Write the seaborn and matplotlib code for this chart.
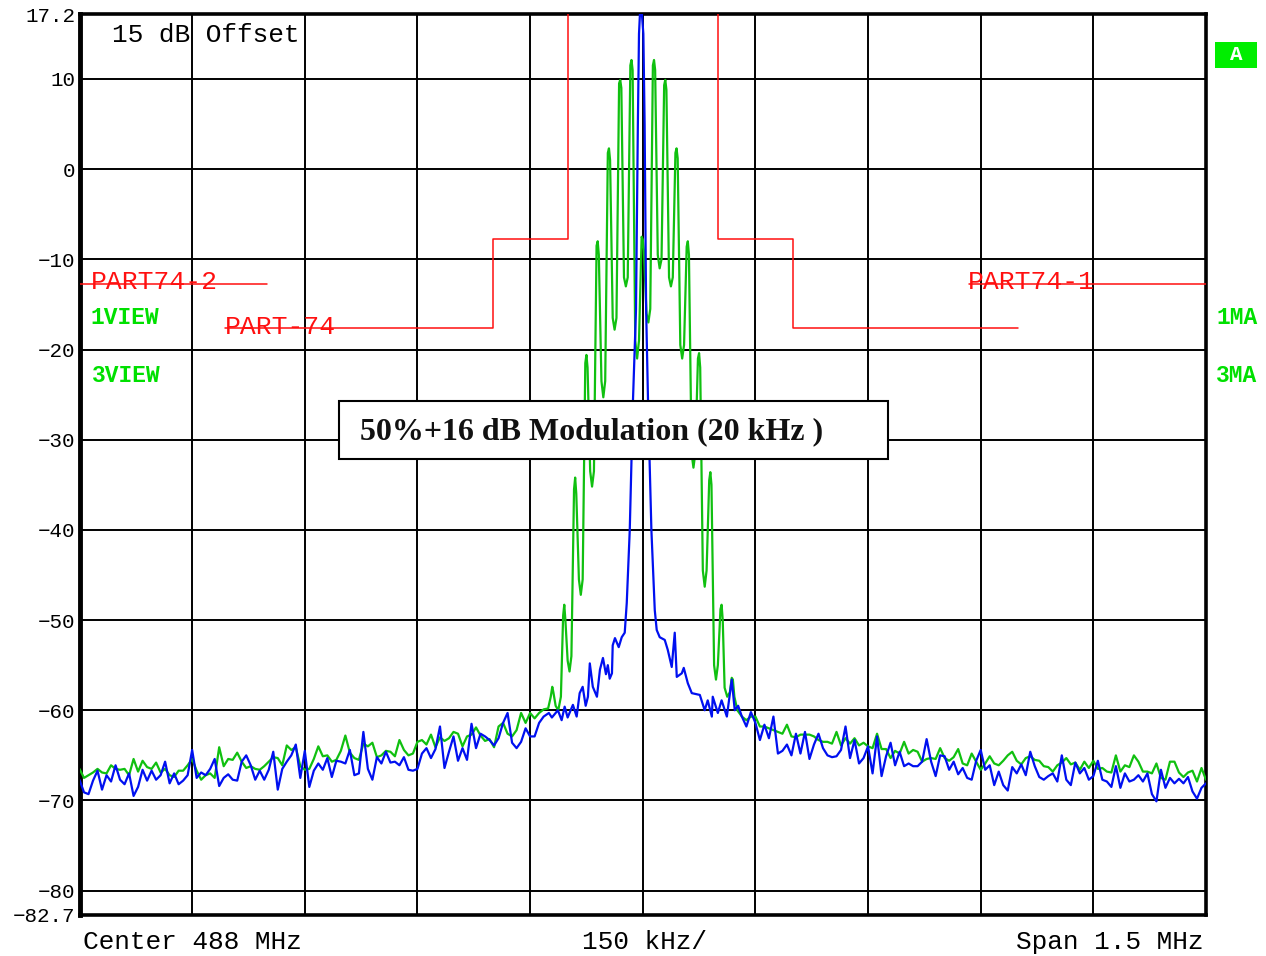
import numpy as np
import pandas as pd
import matplotlib
matplotlib.use("Agg")
import matplotlib.pyplot as plt
import seaborn as sns
from matplotlib.patches import Rectangle

# ---------------- data (dB, frequency in MHz / kHz offsets) ----------------
CENTER_MHZ = 488.0
SPAN_START, SPAN_END = 487.25, 488.75
LEFT_NOISE_END, RIGHT_NOISE_START = 487.868, 488.132

GREEN_LEFT = [-66.5, -67.5, -67.2, -66.9, -66.5, -66.9, -67.0, -66.1, -66.5, -66.6, -66.5, -67.2, -65.4, -66.8,
              -65.6, -66.3, -66.5, -65.8, -66.9, -66.5, -67.2, -67.4, -66.7, -66.7, -66.1, -65.4, -66.7, -67.7,
              -67.2, -67.0, -67.5, -64.1, -66.2, -65.4, -65.5, -64.7, -65.7, -66.4, -66.2, -66.5, -66.6, -66.2,
              -65.7, -65.2, -65.3, -66.1, -63.9, -64.4, -64.1, -66.2, -66.6, -66.5, -65.4,
              -64.0, -65.1, -65.0, -65.7, -65.5, -64.5, -62.8, -64.7, -65.3, -65.5, -63.7, -64.0, -63.6, -65.2,
              -65.0, -64.5, -64.6, -65.1, -63.3, -64.4, -65.0, -64.8, -63.5, -63.3, -63.8, -62.7, -64.1, -63.0,
              -63.4, -63.1, -62.4, -62.6, -64.0, -62.9, -62.7, -61.9, -62.8, -63.4, -63.2, -64.1, -61.8, -61.4,
              -62.6, -62.9, -62.2, -60.3, -61.4, -60.3, -60.9, -60.3, -59.9]
BLUE_LEFT = [-67.7, -69.1, -69.3, -67.8, -66.7, -68.8, -67.2, -67.9, -66.1, -67.7, -68.2, -67.0, -69.5, -68.5,
             -66.6, -67.8, -66.7, -67.7, -67.2, -65.7, -68.1, -67.0, -68.2, -67.8, -67.2, -64.4, -67.5, -66.9,
             -67.2, -66.5, -65.4, -68.4, -67.5, -67.1, -67.7, -67.8, -65.7, -65.0, -66.1, -67.7, -66.7, -67.7,
             -66.6, -64.6, -68.8, -66.5, -65.7, -65.0, -63.8, -67.5, -64.5, -68.5, -66.7,
             -65.9, -66.6, -65.3, -67.4, -65.6, -65.7, -65.9, -64.4, -67.2, -67.0, -62.4, -66.5, -67.7, -65.2,
             -65.9, -64.6, -65.8, -65.7, -66.1, -65.2, -66.6, -66.7, -66.5, -64.8, -64.2, -65.3, -64.3, -61.8,
             -66.4, -64.6, -62.9, -65.6, -64.2, -65.5, -61.5, -64.2, -62.6, -62.9, -63.3, -63.9, -63.1, -61.4,
             -60.3, -63.6, -64.2, -63.5, -62.0, -62.9, -62.9, -61.4, -60.7]
GREEN_RIGHT = [-60.7, -61.1, -60.7, -60.7, -61.8, -61.8, -62.0, -62.2, -62.4, -62.6, -61.6, -62.9, -63.0, -62.7,
               -62.7, -62.7, -62.9, -63.3, -63.5, -63.5, -63.7, -62.4, -63.9, -63.1, -63.7, -63.1, -63.9, -63.6,
               -64.0, -64.2, -62.6, -64.3, -64.3, -65.3, -64.5, -64.8, -63.5, -64.8, -64.4, -64.6, -65.7, -65.4,
               -65.3, -65.4, -64.2, -65.3, -65.6, -65.2, -64.3, -65.9, -66.1,
               -64.8, -65.7, -66.6, -65.9, -65.1, -65.9, -66.1, -65.6, -65.0, -64.6, -65.6, -66.0, -65.3, -65.1,
               -65.5, -65.6, -66.2, -66.3, -66.8, -66.1, -65.8, -65.3, -66.0, -65.8, -66.6, -65.7, -66.4, -65.6,
               -66.5, -66.4, -66.8, -66.9, -65.0, -66.8, -66.1, -66.3, -65.0, -65.7, -66.8, -66.8, -67.0, -65.9,
               -67.5, -67.7, -65.7, -65.7, -66.9, -67.4, -66.9, -66.7, -67.9, -66.4, -67.7]
BLUE_RIGHT = [-60.7, -61.8, -60.2, -61.4, -63.3, -61.6, -63.1, -60.7, -64.8, -64.5, -63.8, -65.0, -62.6, -64.8,
              -62.4, -65.4, -63.8, -62.6, -64.2, -65.0, -65.2, -65.1, -64.4, -61.8, -65.3, -63.3, -65.9, -65.3,
              -64.0, -67.0, -62.9, -67.3, -65.1, -63.6, -66.1, -64.6, -66.2, -65.9, -66.2, -66.2, -65.7, -63.2,
              -65.7, -67.3, -65.0, -65.1, -66.6, -65.7, -67.1, -66.4, -67.5,
              -67.7, -65.6, -64.4, -66.6, -66.1, -68.3, -66.8, -68.3, -68.9, -66.3, -67.0, -66.0, -67.2, -64.6,
              -66.2, -67.4, -67.7, -67.3, -67.0, -67.9, -65.0, -67.7, -68.3, -65.8, -67.0, -66.4, -67.7, -67.3,
              -65.6, -67.7, -67.9, -68.5, -66.2, -68.6, -67.0, -67.9, -67.7, -67.2, -67.9, -67.0, -69.3, -70.1,
              -66.6, -68.6, -67.5, -68.1, -67.6, -68.1, -67.4, -69.0, -69.8, -68.6, -68.1]

# central modulation spectrum (offset from centre in kHz, level in dB)
GREEN_CENTER_OFF = [-126, -122.5, -120.5, -119, -116, -112.5, -109, -106, -104.5, -103, -100, -97.5, -95,
                    -91.5, -90, -88.5, -85, -82.5, -80, -76.5, -75, -73.5, -70, -67.5, -65, -61.5, -60, -58.5,
                    -55, -52.5, -50, -46.5, -45, -43.5, -40, -37.5, -35, -31.5, -30, -28.5, -25, -22.5, -20,
                    -16.5, -15, -13.5, -10, -7.5, -5, -1.5, 0, 1.5, 5, 7.5, 10, 13.5, 15, 16.5, 20, 22.5, 25,
                    28.5, 30, 31.5, 35, 37.5, 40, 43.5, 45, 46.5, 50, 52.5, 55, 58.5, 60, 61.5, 65, 67.5, 70,
                    73.5, 75, 76.5, 80, 82.5, 85, 88.5, 90, 91.5, 95, 97.5, 100, 103.5, 105, 106.5, 109, 112.5,
                    116, 118.5, 120, 122, 126]
GREEN_CENTER_DB = [-59.8, -58.5, -57.4, -58.0, -59.5, -60.0, -58.5, -49.5, -48.3, -50.0, -54.5, -55.7, -54.0,
                   -35.5, -34.2, -36.0, -45.5, -47.2, -45.5, -21.5, -20.6, -22.0, -33.5, -35.2, -33.5, -8.5,
                   -8.0, -9.5, -23.5, -25.3, -23.5, 1.8, 2.3, 1.0, -16.5, -17.8, -16.5, 9.5, 9.9, 9.0, -12.0,
                   -13.0, -12.0, 11.5, 12.1, 11.0, -19.0, -21.0, -19.0, -7.5, -7.8, -9.0, -16.0, -17.0, -15.5,
                   11.5, 12.1, 11.0, -9.5, -11.0, -10.0, 9.3, 9.9, 8.8, -12.0, -13.0, -12.0, 1.8, 2.3, 1.2,
                   -19.5, -21.0, -19.5, -8.6, -8.0, -9.5, -31.5, -33.1, -31.5, -21.0, -20.4, -22.0, -44.5,
                   -46.3, -44.5, -34.5, -33.6, -35.0, -55.0, -56.6, -55.0, -48.8, -48.3, -50.0, -57.5, -58.5,
                   -58.0, -56.4, -56.6, -58.5, -60.0]
BLUE_CENTER_OFF = [-125, -121, -113, -108, -104, -100, -93, -88, -84, -80, -76, -73, -70.5, -66.5, -61, -57,
                   -53, -49, -46.5, -44, -41, -40, -37, -32, -28, -24, -21.3, -17.3, -13, -9, -6.5, -5, -2.7,
                   0.8, 2.5, 4.5, 7, 11.5, 16, 18.6, 22.6, 29.3, 33.3, 38.6, 42.6, 45.3, 52, 54.6, 60, 65.3,
                   76, 82.5, 86.5, 92, 93.2, 100, 105, 112, 118.5, 122.5, 127]
BLUE_CENTER_DB = [-60.3, -60.8, -60.0, -61.1, -59.6, -60.8, -59.4, -60.7, -58.1, -57.4, -59.5, -58.5, -54.8,
                  -57.4, -58.5, -55.5, -54.2, -56.0, -55.0, -56.5, -55.9, -52.8, -52.0, -53.0, -51.9, -51.4,
                  -48.1, -40.0, -25.6, -15.6, 5.0, 15.0, 19.0, 15.0, 5.0, -15.6, -25.6, -40.0, -48.9, -51.1,
                  -51.9, -52.2, -53.3, -55.2, -51.4, -56.3, -55.9, -55.3, -57.0, -58.1, -58.3, -60.0, -58.9,
                  -60.7, -58.5, -60.3, -58.9, -60.7, -56.6, -60.0, -59.5]

# limit masks
PART74_MASK_L_F = [487.444, 487.80, 487.80, 487.90, 487.90]
PART74_MASK_L_DB = [-17.6, -17.6, -7.7, -7.7, 18.0]
PART74_MASK_R_F = [488.10, 488.10, 488.20, 488.20, 488.50]
PART74_MASK_R_DB = [18.0, -7.7, -7.7, -17.6, -17.6]
PART74_2_F = [487.25, 487.50]
PART74_1_F = [488.435, 488.75]
PART74_12_DB = -12.7

Y_TICKS = [17.2, 10, 0, -10, -20, -30, -40, -50, -60, -70, -80, -82.7]
Y_LABELS = ["17.2", "10", "0", "\u221210", "\u221220", "\u221230", "\u221240", "\u221250", "\u221260",
            "\u221270", "\u221280", "\u221282.7"]

# ---------------- build traces ----------------
def trace(left, center_off, center_db, right):
    f = np.concatenate([np.linspace(SPAN_START, LEFT_NOISE_END, len(left)),
                        CENTER_MHZ + np.array(center_off) / 1000.0,
                        np.linspace(RIGHT_NOISE_START, SPAN_END, len(right))])
    v = np.concatenate([left, center_db, right])
    return pd.DataFrame({"freq": f, "level": v})

df_green = trace(GREEN_LEFT, GREEN_CENTER_OFF, GREEN_CENTER_DB, GREEN_RIGHT)
df_blue = trace(BLUE_LEFT, BLUE_CENTER_OFF, BLUE_CENTER_DB, BLUE_RIGHT)

# ---------------- figure ----------------
sns.set_theme(style="white")
plt.rcParams['font.family'] = ['Liberation Mono', 'DejaVu Sans Mono']
plt.rcParams['text.color'] = 'black'
W, H = 1266, 956
fig = plt.figure(figsize=(W / 100, H / 100), dpi=100)
fig.patch.set_facecolor("white")
ax = fig.add_axes([79.5 / W, 1 - 915 / H, (1206 - 79.5) / W, (915 - 14) / H])
ax.set_facecolor("white")

def fx(px):
    return px / W

def fy(py):
    return 1 - py / H

GREEN = "#10c010"
BLUE = "#0010f0"
RED = "#ff1010"
LABEL_GREEN = "#00e000"

sns.lineplot(data=df_green, x="freq", y="level", ax=ax, color=GREEN, linewidth=1.6,
             estimator=None, sort=False, zorder=3)
sns.lineplot(data=df_blue, x="freq", y="level", ax=ax, color=BLUE, linewidth=1.6,
             estimator=None, sort=False, zorder=4)

ax.plot(PART74_MASK_L_F, PART74_MASK_L_DB, color=RED, lw=1.1, zorder=5)
ax.plot(PART74_MASK_R_F, PART74_MASK_R_DB, color=RED, lw=1.1, zorder=5)
ax.plot(PART74_2_F, [PART74_12_DB] * 2, color=RED, lw=1.1, zorder=5)
ax.plot(PART74_1_F, [PART74_12_DB] * 2, color=RED, lw=1.1, zorder=5)

ax.set_xlim(SPAN_START, SPAN_END)
ax.set_ylim(-82.7, 17.2)
ax.set_xticks(np.linspace(SPAN_START, SPAN_END, 11))
ax.set_xticklabels([])
ax.set_yticks(Y_TICKS)
ax.set_yticklabels(Y_LABELS)
ax.tick_params(axis="both", length=0, pad=3)
ax.tick_params(axis="y", labelsize=15, colors="black")
ax.grid(True, color="black", linewidth=1.4)
ax.set_axisbelow(True)
ax.set_xlabel("")
ax.set_ylabel("")
for name, sp in ax.spines.items():
    sp.set_visible(True)
    sp.set_color("black")
    sp.set_linewidth(2.6)
ax.spines["left"].set_linewidth(3.5)

# annotations
mono = ['Liberation Mono', 'DejaVu Sans Mono']
fig.text(fx(112), fy(35), "15 dB Offset", fontsize=18.8, family=mono, color="black", ha="left", va="center")
fig.text(fx(83), fy(942), "Center 488 MHz", fontsize=18.8, family=mono, color="black", ha="left", va="center")
fig.text(fx(645), fy(942), "150 kHz/", fontsize=18.8, family=mono, color="black", ha="center", va="center")
fig.text(fx(1203), fy(942), "Span 1.5 MHz", fontsize=18.8, family=mono, color="black", ha="right", va="center")

fig.text(fx(91), fy(282), "PART74-2", fontsize=19, family=mono, color=RED, ha="left", va="center", zorder=6)
fig.text(fx(225), fy(327), "PART-74", fontsize=19, family=mono, color=RED, ha="left", va="center", zorder=6)
fig.text(fx(968), fy(282), "PART74-1", fontsize=19, family=mono, color=RED, ha="left", va="center", zorder=6)

for txt, x, y in [("1VIEW", 91, 318), ("3VIEW", 92, 375), ("1MA", 1216, 318), ("3MA", 1216, 375)]:
    fig.text(fx(x), fy(y), txt, fontsize=16.5, family=mono, weight="bold", color=LABEL_GREEN,
             ha="left", va="center", zorder=6)

fig.add_artist(Rectangle((fx(1215), fy(68)), 42 / W, 26 / H, transform=fig.transFigure,
                         facecolor="#00ee00", edgecolor="none", zorder=6))
fig.text(fx(1236), fy(54), "A", fontsize=15, family=mono, weight="bold", color="white",
         ha="center", va="center", zorder=7)

fig.add_artist(Rectangle((fx(339), fy(459)), (888 - 339) / W, (459 - 401) / H, transform=fig.transFigure,
                         facecolor="white", edgecolor="black", linewidth=1.5, zorder=8))
fig.text(fx(360), fy(432), "50%+16 dB Modulation (20 kHz )", fontsize=23,
         family=['Liberation Serif', 'DejaVu Serif'], weight="bold", color="#111111",
         ha="left", va="center", zorder=9)

fig.savefig("out.png", dpi=100, facecolor="white")
